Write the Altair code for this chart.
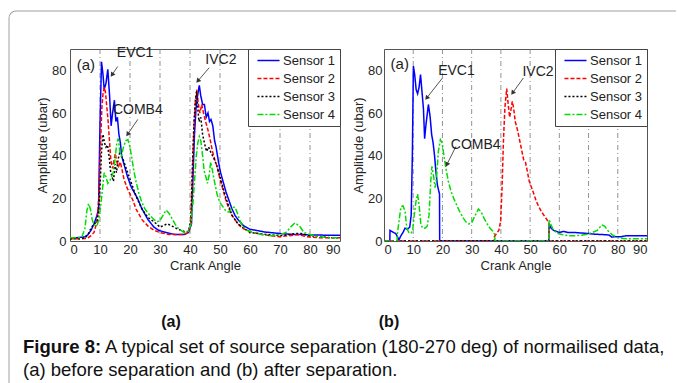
import math
import altair as alt
import pandas as pd

sensors = ["Sensor 1", "Sensor 2", "Sensor 3", "Sensor 4"]
colors = ["#0000FF", "#FF0000", "#000000", "#00DD00"]
dashes = [[1, 0], [4, 2], [2, 2], [6, 2, 2, 2]]
x_ticks = [0, 10, 20, 30, 40, 50, 60, 70, 80, 90]
y_ticks = [0, 20, 40, 60, 80]
grid_x = [10, 20, 30, 40, 50, 60, 70, 80]

# ---------- panel (a): before separation ----------
a_s1 = [(0, 1.5), (2, 1.5), (4, 1.8), (5, 2), (6, 3), (7, 5), (8, 8), (9, 12), (9.5, 15),
        (10, 55), (10.5, 84), (11, 78), (11.4, 71), (12, 74), (12.6, 80.5), (13.2, 68),
        (13.7, 54), (14.2, 60), (14.8, 66), (15.3, 56), (15.8, 58), (16.3, 50), (16.8, 46),
        (17.2, 40), (18, 36), (19.2, 30), (20.5, 25), (22.5, 20), (24, 15), (26, 10),
        (28, 6.5), (29.5, 5), (32, 4), (35, 3), (38, 3), (39.5, 4), (40.5, 8), (41, 30),
        (41.5, 50), (42, 62), (42.5, 68), (43.1, 73), (43.6, 68), (44.2, 64), (44.8, 64),
        (45.4, 58), (46, 60), (46.5, 56), (47, 57), (47.6, 54), (48.2, 47), (48.7, 44),
        (49.5, 37), (50.2, 32), (51, 28), (52, 23), (53, 19), (54, 15), (55, 12), (56, 10),
        (57, 8.5), (58, 7), (60, 5.5), (62, 5), (65, 4.2), (68, 3.8), (70, 3.5), (73, 3.2),
        (76, 3), (78, 3), (80, 2.8), (83, 2.8), (86, 2.7), (90, 2.7)]
a_s2 = [(0, 1), (3, 1), (5, 1.2), (6, 1.5), (7, 2.5), (8, 4), (9, 9), (9.6, 20), (10.1, 42),
        (10.6, 62), (11, 69), (11.4, 72), (11.8, 70), (12.2, 64), (12.6, 58), (13.1, 48),
        (13.6, 38), (14.2, 34), (14.7, 38), (15.1, 41), (15.6, 37), (16.2, 35), (16.8, 37),
        (17.4, 33), (18, 29), (19, 25), (20, 22), (21, 19), (22, 15), (24, 10), (26, 7),
        (28, 5), (30, 4), (33, 3), (36, 3), (38, 3), (39.5, 4), (40.3, 8), (40.8, 30),
        (41.3, 52), (41.8, 65), (42.3, 71), (42.8, 64), (43.3, 60), (43.9, 64), (44.5, 60),
        (45.2, 56), (46, 52), (46.8, 47), (47.5, 42), (48.3, 38), (49, 35), (50, 29),
        (51, 24), (52, 19), (53, 15), (54, 12), (55, 10), (56, 8), (57.5, 6), (59, 5),
        (61, 4), (64, 3), (67, 2.5), (70, 2), (73, 2.5), (76, 3), (79, 2), (83, 1.5),
        (87, 1.5), (90, 1.5)]
a_s3 = [(0, 1), (3, 1), (5, 1.5), (6, 3), (7, 6), (8, 8), (9, 9), (9.6, 14), (10.1, 28),
        (10.5, 42), (11, 50), (11.5, 46), (12, 44), (12.5, 45), (13, 40), (13.5, 33),
        (14, 30), (14.5, 28), (15, 36), (15.5, 32), (16, 38), (16.5, 41), (17, 40),
        (17.5, 39), (18, 37), (19, 33), (20, 29), (21, 25), (22, 21), (23, 18), (24, 15),
        (26, 11), (28, 9), (30, 6.5), (31.5, 7.5), (32.5, 8), (34, 7), (36, 5.5), (38, 4.5),
        (39.5, 4.5), (40.3, 10), (40.8, 35), (41.3, 55), (41.8, 66), (42.2, 70), (42.6, 62),
        (43, 56), (43.6, 58), (44.2, 50), (44.8, 46), (45.5, 42), (46.2, 44), (46.8, 42),
        (47.5, 40), (48.2, 38), (49, 35), (50, 30), (51, 25), (52, 20), (53, 16), (54, 12),
        (55, 10), (56, 8), (58, 6), (60, 4), (63, 3.5), (66, 3), (70, 2.5), (73, 3),
        (75, 3.5), (77, 3.5), (80, 2.5), (84, 2), (87, 1.5), (90, 1.5)]
a_s4 = [(0, 1.5), (3, 1.5), (4, 2), (5, 6), (5.6, 14), (6.2, 17.5), (6.8, 15), (7.4, 10),
        (8, 7.5), (9, 7), (9.6, 10), (10.2, 16), (10.8, 24), (11.4, 32), (12, 30),
        (12.6, 27), (13.2, 28), (13.8, 30), (14.4, 32), (15, 38), (15.6, 46), (16.1, 48),
        (16.6, 42), (17.2, 40), (17.8, 44), (18.6, 47), (19.3, 47.5), (20, 44), (20.7, 38),
        (21.4, 32), (22, 28), (23, 22), (24, 18), (25, 15), (26, 13), (27, 11.5), (28, 10),
        (29, 9), (30, 9.5), (31, 12), (32, 14.5), (33, 13), (34, 10.5), (35, 8), (36, 6),
        (37, 5), (38, 4), (39.5, 4.5), (40.3, 8), (41, 18), (41.6, 30), (42.1, 40),
        (42.6, 46), (43.1, 49), (43.6, 47), (44.2, 40), (44.7, 33), (45.3, 30), (45.8, 27),
        (46.4, 31), (46.9, 37), (47.5, 33), (48, 29), (49, 22), (50, 18), (51, 16),
        (52, 14), (53, 13.5), (54, 15.5), (55, 16), (55.8, 13), (56.5, 10), (57.5, 7),
        (59, 5), (61, 4), (64, 3), (67, 2.5), (70, 3), (72, 4), (73.5, 6.5), (75, 8.5),
        (76.5, 7), (78, 4), (80, 3), (83, 2), (87, 1.5), (90, 1.5)]

# ---------- panel (b): after separation ----------
b_s1 = [(0, 0), (2, 0), (2.05, 5), (3, 4.2), (4, 3.5), (4.6, 2), (5.1, 0.5), (5.8, 2.5),
        (6.5, 4), (7.2, 6), (8, 5.5), (8.8, 6.5), (9.3, 12), (9.7, 40), (10.06, 82),
        (10.5, 78), (11, 71), (11.5, 69), (12, 72), (12.5, 78), (13, 70), (13.5, 62),
        (13.9, 48), (14.4, 55), (15.2, 64), (15.8, 58), (16.3, 50), (16.8, 46), (17.3, 40),
        (17.8, 32), (18.3, 26), (19, 22), (19.05, 0), (56.4, 0), (56.5, 8), (57.2, 6),
        (58, 5), (59, 4.5), (60, 4), (61.5, 4.5), (63, 4), (65, 4), (67, 3.8), (70, 3.5),
        (72, 3.2), (75, 3), (77, 2.8), (78, 1.8), (79, 2), (81, 2), (83, 2.5), (86, 2.5),
        (90, 2.5)]
b_s2 = [(0, 0), (37.7, 0), (37.75, 2), (38.5, 3.5), (39.3, 5), (39.9, 9), (40.4, 25),
        (40.9, 48), (41.4, 63), (42, 71.5), (42.5, 64), (43, 58), (43.5, 62), (43.9, 65.5),
        (44.4, 62), (44.9, 56), (45.5, 53), (46, 50), (46.6, 46), (47.2, 42), (47.8, 38),
        (48.4, 37), (49, 33), (49.7, 28), (50.5, 25), (51.3, 22), (52, 19), (53, 16),
        (54, 13.5), (55, 11.5), (56, 9.5), (56.45, 8.5), (56.5, 0), (90, 0)]
b_s3 = [(0, 0), (90, 0)]
b_s4 = [(0, 0), (4.5, 0), (4.55, 3), (5.2, 10), (5.8, 16), (6.5, 16.5), (7.2, 14), (7.8, 6),
        (8.5, 4), (9.2, 3.5), (9.8, 5), (10.5, 14), (11, 19), (11.5, 22), (12, 17),
        (12.6, 8), (13.2, 6), (14, 6), (14.8, 7), (15.4, 12), (16, 28), (16.4, 35),
        (16.9, 31), (17.5, 25), (18, 30), (18.6, 42), (19.3, 47.5), (19.9, 46), (20.5, 40),
        (21.2, 34), (22, 28), (23, 23), (24, 19.5), (25, 16.5), (26, 13.5), (27, 11),
        (28, 9), (29, 8), (30, 8.5), (31, 11.5), (32.3, 15), (33.3, 13.5), (34.3, 10.5),
        (35.3, 8), (36.3, 6), (37.3, 4.5), (37.9, 3), (37.95, 0), (56.4, 0), (56.5, 10),
        (57.2, 7.5), (58, 5), (59.5, 3.5), (61, 3), (63, 2.5), (66, 2.5), (69, 3),
        (71, 3.8), (73, 5), (74.5, 7.5), (75.5, 7), (76.5, 5), (78, 3), (80, 1.5), (83, 1),
        (87, 1), (90, 1)]

# annotations: label, text x, text y, arrow (start x, start y, tip x, tip y)
a_labels = ["EVC1", "COMB4", "IVC2"]
a_text_x = [21.7, 22.6, 50.3]
a_text_y = [88, 61.4, 84.9]
a_arrow = [(15.9, 81.8, 14.0, 77.9), (22.6, 57.0, 19.2, 50.0), (46.4, 81.2, 42.6, 75.0)]
b_labels = ["EVC1", "COMB4", "IVC2"]
b_text_x = [24.8, 31.4, 52.7]
b_text_y = [79.5, 45, 79]
b_arrow = [(20.0, 76.4, 14.6, 67.0), (24.6, 44.3, 21.5, 35.8), (47.7, 76.4, 44.0, 69.4)]
panel_tag = "(a)"
tag_pos_a = (5.3, 82.5)
tag_pos_b = (5.4, 83)

caption_bold = "Figure 8:"
caption_rest = "A typical set of source separation (180-270 deg) of normailised data,"
caption_line2 = "(a) before separation and (b) after separation."

FONT = "Liberation Sans"
H = 192
W_A = 270
W_B = 263


def long_df(series):
    rows = []
    for name, pts in zip(sensors, series):
        for i, (x, y) in enumerate(pts):
            rows.append({"x": x, "y": y, "sensor": name, "i": i})
    return pd.DataFrame(rows)


def panel(series, labels, tx, ty, arrows, tag_pos, width, ylabpad, extra=None):
    xs = alt.Scale(domain=[0, 90], nice=False, zero=False)
    ys = alt.Scale(domain=[0, 90], nice=False, zero=False)
    xaxis = alt.Axis(values=x_ticks, title="Crank Angle", grid=False, ticks=False,
                     domain=False, labelPadding=2, titlePadding=3, format="d")
    yaxis = alt.Axis(values=y_ticks, title="Amplitude (ubar)", grid=False, ticks=False,
                     domain=False, labelPadding=ylabpad, titlePadding=2, format="d")

    def X(f):
        return alt.X(f, type="quantitative", scale=xs, axis=xaxis)

    def Y(f):
        return alt.Y(f, type="quantitative", scale=ys, axis=yaxis)

    grid = alt.Chart(pd.DataFrame({"x": grid_x})).mark_rule(
        color="#777777", strokeDash=[5, 3, 1, 3], strokeWidth=0.8
    ).encode(x=X("x"))

    leg = alt.Legend(title=None, orient="top-right", offset=0, padding=4,
                     fillColor="white", strokeColor="#444444", labelFontSize=13,
                     labelFont=FONT, labelColor="#222222", symbolSize=169,
                     symbolType="M-1.7,0H1.7", symbolStrokeWidth=1.6, symbolOffset=9,
                     rowPadding=3, labelOffset=7)
    lines = alt.Chart(long_df(series)).mark_line(strokeWidth=1.5, clip=True).encode(
        x=X("x"), y=Y("y"),
        color=alt.Color("sensor:N", scale=alt.Scale(domain=sensors, range=colors), legend=leg),
        strokeDash=alt.StrokeDash("sensor:N", scale=alt.Scale(domain=sensors, range=dashes),
                                  legend=leg),
        order="i:Q",
    )

    wpx = width / 90.0
    hpx = H / 90.0
    adf = pd.DataFrame({
        "x": [a[0] for a in arrows], "y": [a[1] for a in arrows],
        "x2": [a[2] for a in arrows], "y2": [a[3] for a in arrows],
    })
    adf["ang"] = [
        (math.degrees(math.atan2((a[2] - a[0]) * wpx, (a[3] - a[1]) * hpx)) + 360) % 360
        for a in arrows
    ]
    rules = alt.Chart(adf).mark_rule(color="#555555", strokeWidth=1).encode(
        x=X("x"), y=Y("y"), x2="x2:Q", y2="y2:Q")
    heads = alt.Chart(adf).mark_point(shape="triangle-up", filled=True, size=28,
                                      color="#333333", opacity=1).encode(
        x=X("x2"), y=Y("y2"), angle=alt.Angle("ang:Q", scale=None))

    tdf = pd.DataFrame({"x": tx, "y": ty, "label": labels})
    texts = alt.Chart(tdf).mark_text(fontSize=14, font=FONT, color="#222222").encode(
        x=X("x"), y=Y("y"), text="label:N")
    tag = alt.Chart(pd.DataFrame({"x": [tag_pos[0]], "y": [tag_pos[1]], "label": [panel_tag]})
                    ).mark_text(fontSize=15, font=FONT, color="#222222").encode(
        x=X("x"), y=Y("y"), text="label:N")

    layers = [grid, lines, rules, heads, texts, tag]
    if extra:
        layers += extra
    return alt.layer(*layers).properties(width=width, height=H)


def pix_text(label, px, py, size, weight="normal", align="left", font=FONT, color="#111111"):
    return alt.Chart(pd.DataFrame({"t": [label]})).mark_text(
        fontSize=size, fontWeight=weight, align=align, baseline="middle", font=font,
        color=color).encode(text="t:N", x=alt.value(px), y=alt.value(py))


dummy = pd.DataFrame({"d": [0]})
border_left = alt.Chart(dummy).mark_rule(color="#a0a0a0", strokeWidth=1).encode(
    x=alt.value(-61), y=alt.value(-31), y2=alt.value(334))
border_top = alt.Chart(dummy).mark_rule(color="#a0a0a0", strokeWidth=1).encode(
    x=alt.value(-54), x2=alt.value(606), y=alt.value(-38))
corner = alt.Chart(dummy).mark_arc(color="#a0a0a0", theta=4.7124, theta2=6.2832,
                                   radius=7.5, radius2=6.5).encode(
    x=alt.value(-54), y=alt.value(-31))

extras = [
    border_left, border_top, corner,
    pix_text("(a)", 101, 273, 16, "bold", "center"),
    pix_text("(b)", 319, 273, 16, "bold", "center"),
    pix_text(caption_bold, -47, 298, 18.5, "bold"),
    pix_text(caption_rest, 35, 298, 18.5),
    pix_text(caption_line2, -47, 321, 18.5),
]

left = panel([a_s1, a_s2, a_s3, a_s4], a_labels, a_text_x, a_text_y, a_arrow, tag_pos_a,
             W_A, 4, extras)
right = panel([b_s1, b_s2, b_s3, b_s4], b_labels, b_text_x, b_text_y, b_arrow, tag_pos_b,
              W_B, 2)

chart = alt.hconcat(left, right, spacing=44, bounds="flush").resolve_scale(
    color="independent", strokeDash="independent"
).properties(
    padding={"left": 8, "top": 10, "right": 0, "bottom": 0},
    background="white",
).configure_view(stroke="#555555", strokeWidth=1).configure_axis(
    labelFont=FONT, titleFont=FONT, labelFontSize=13, titleFontSize=13,
    labelColor="#262626", titleColor="#262626", titleFontWeight="normal",
)

chart.save("out.html", embed_options={"renderer": "svg", "actions": False})
